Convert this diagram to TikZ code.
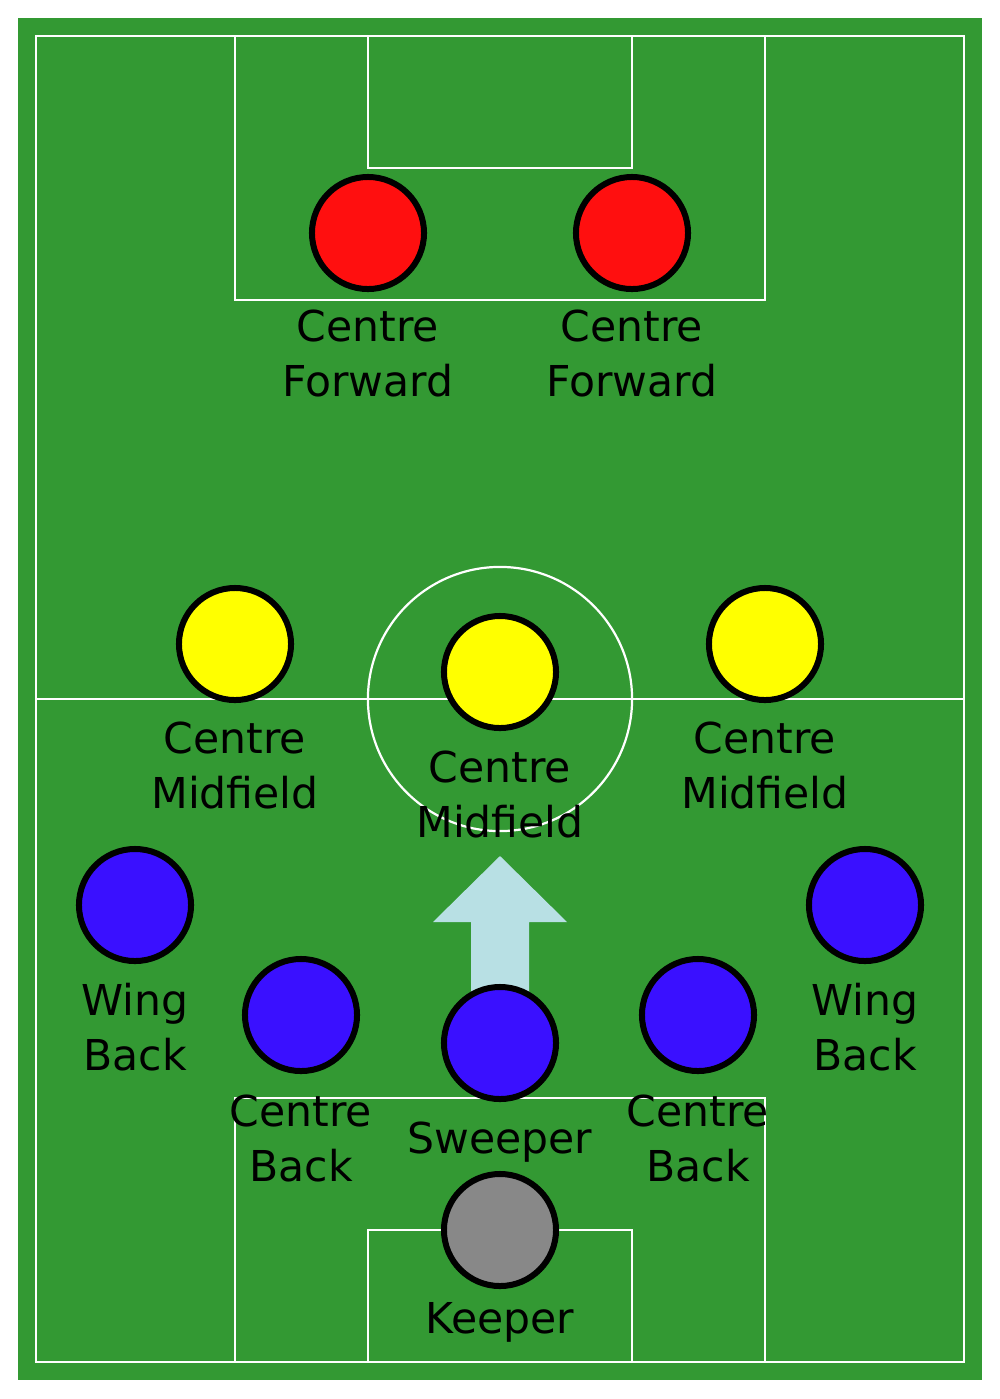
\documentclass[tikz,border=0pt]{standalone}
\usepackage{fontspec}
\setmainfont{DejaVu Sans}
\definecolor{pitch}{HTML}{339933}
\definecolor{fwdred}{HTML}{FF0F0F}
\definecolor{midyellow}{HTML}{FFFF00}
\definecolor{defblue}{HTML}{3A10FF}
\definecolor{gkgrey}{HTML}{888888}
\definecolor{runarrow}{HTML}{B8E0E4}

\begin{document}
\begin{tikzpicture}[x=0.01cm,y=-0.01cm,
        lines/.style={draw=white,line width=0.022cm},
        player/.style={circle,draw=black,line width=0.06cm,minimum size=1.12cm,inner sep=0pt},
        role/.style={anchor=base,align=center,inner sep=0pt,font=\fontsize{12.1}{15.4}\selectfont}]
                \useasboundingbox (0,0) rectangle (1000,1399);
                \fill[pitch] (18,18) rectangle (982,1380);
                \draw[lines] (36,36) rectangle (964,1362);
                \draw[lines] (36,699) -- (964,699);
                \draw[lines] (500,699) circle [radius=1.32cm];
                \draw[lines] (235,36) rectangle (765,300);
                \draw[lines] (368,36) rectangle (632,168);
                \draw[lines] (235,1362) rectangle (765,1098);
                \draw[lines] (368,1362) rectangle (632,1230);
                \fill[runarrow] (471,1000) -- (471,922) -- (433,922) -- (500,856) -- (567,922) -- (529,922) -- (529,1000) -- cycle;
                \node[player,fill=fwdred] (cf1) at (368,233) {};
                \node[player,fill=fwdred] (cf2) at (632,233) {};
                \node[player,fill=midyellow] (cm1) at (235,644) {};
                \node[player,fill=midyellow] (cm2) at (500,672) {};
                \node[player,fill=midyellow] (cm3) at (765,644) {};
                \node[player,fill=defblue] (wb1) at (135,905) {};
                \node[player,fill=defblue] (wb2) at (865,905) {};
                \node[player,fill=defblue] (cb1) at (301,1015) {};
                \node[player,fill=defblue] (cb2) at (698,1015) {};
                \node[player,fill=defblue] (sw) at (500,1043) {};
                \node[player,fill=gkgrey] (gk) at (500,1230) {};
                \node[role] (cf1text) at (368,396) {Centre\\Forward};
                \node[role] (cf2text) at (632,396) {Centre\\Forward};
                \node[role] (cm1text) at (235,808) {Centre\\Midfield};
                \node[role] (cm2text) at (500,837) {Centre\\Midfield};
                \node[role] (cm3text) at (765,808) {Centre\\Midfield};
                \node[role] (wb1text) at (135,1070) {Wing\\Back};
                \node[role] (wb2text) at (865,1070) {Wing\\Back};
                \node[role] (cb1text) at (301,1181) {Centre\\Back};
                \node[role] (cb2text) at (698,1181) {Centre\\Back};
                \node[role] (swtext) at (500,1153) {Sweeper};
                \node[role] (gktext) at (500,1333) {Keeper};
        \end{tikzpicture}
\end{document}
